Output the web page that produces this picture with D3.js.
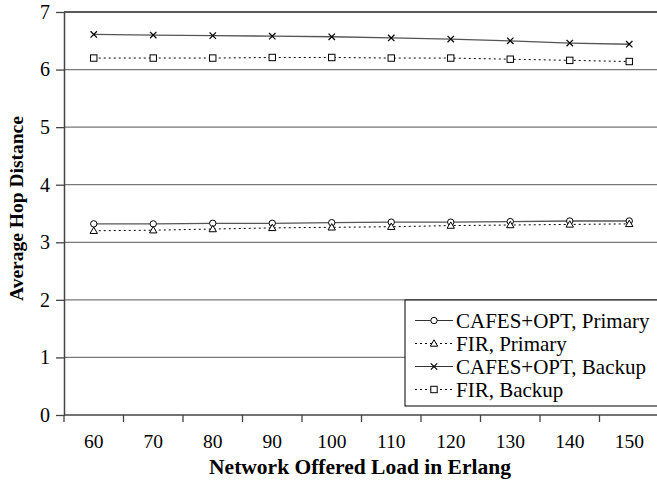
<!DOCTYPE html>
<html>
<head>
<meta charset="utf-8">
<script src="https://cdn.jsdelivr.net/npm/d3@7"></script>
<style>
  body { margin: 0; background: #fff; }
  svg text { font-family: "Liberation Serif", "Times New Roman", Times, serif; }
</style>
</head>
<body>
<div id="chart"></div>
<script>
const width = 657, height = 486;

// load values on the x axis (Erlang)
const loads = [60, 70, 80, 90, 100, 110, 120, 130, 140, 150];
const yTicks = [0, 1, 2, 3, 4, 5, 6, 7];

// average hop distance
const cafesPrimary = [3.32, 3.32, 3.33, 3.33, 3.34, 3.35, 3.35, 3.36, 3.37, 3.37];
const firPrimary = [3.20, 3.21, 3.23, 3.25, 3.26, 3.27, 3.29, 3.30, 3.31, 3.32];
const cafesBackup = [6.61, 6.60, 6.59, 6.58, 6.57, 6.55, 6.53, 6.50, 6.46, 6.44];
const firBackup = [6.20, 6.20, 6.20, 6.21, 6.21, 6.20, 6.20, 6.18, 6.16, 6.14];

const seriesNames = ['CAFES+OPT, Primary', 'FIR, Primary', 'CAFES+OPT, Backup', 'FIR, Backup'];
const seriesValues = [cafesPrimary, firPrimary, cafesBackup, firBackup];
const seriesMarkers = ['circle', 'triangle', 'cross', 'square'];
const seriesDashed = [false, true, false, true];

const serif = '"Liberation Serif", "Times New Roman", Times, serif';
const margin = { left: 64, right: -2, top: 12, bottom: 71 };

const svg = d3.select('#chart').append('svg')
  .attr('width', width)
  .attr('height', height)
  .style('font-family', serif);

const x = d3.scaleBand()
  .domain(loads)
  .range([margin.left, width - margin.right]);

const y = d3.scaleLinear()
  .domain([0, 7])
  .range([height - margin.bottom, margin.top]);

// gridlines
svg.append('g').selectAll('line')
  .data(yTicks.filter(d => d > 0))
  .join('line')
  .attr('x1', margin.left).attr('x2', width)
  .attr('y1', d => y(d)).attr('y2', d => y(d))
  .attr('stroke', d => d === 7 ? '#222' : '#777')
  .attr('stroke-width', 1.3);

// y axis
const yAxis = svg.append('g')
  .attr('transform', `translate(${margin.left},0)`)
  .call(d3.axisLeft(y).tickValues(yTicks).tickFormat(d3.format('d'))
    .tickSize(8).tickSizeOuter(0).tickPadding(6));
yAxis.attr('font-family', null);
yAxis.select('.domain').attr('stroke', '#444').attr('stroke-width', 1.5);
yAxis.selectAll('.tick line').attr('stroke', '#444').attr('stroke-width', 1.3);
yAxis.selectAll('.tick text')
  .style('font-family', serif)
  .attr('font-size', 20).attr('fill', '#000');

// x axis: ticks sit at band boundaries
const xAxisY = y(0);
svg.append('line')
  .attr('x1', margin.left).attr('x2', width)
  .attr('y1', xAxisY).attr('y2', xAxisY)
  .attr('stroke', '#444').attr('stroke-width', 1.5);
svg.append('g').selectAll('line')
  .data(loads)
  .join('line')
  .attr('x1', d => x(d)).attr('x2', d => x(d))
  .attr('y1', xAxisY).attr('y2', xAxisY + 7)
  .attr('stroke', '#444').attr('stroke-width', 1.3);
svg.append('g').selectAll('text')
  .data(loads)
  .join('text')
  .attr('x', d => x(d) + x.bandwidth() / 2)
  .attr('y', xAxisY + 33)
  .attr('text-anchor', 'middle')
  .attr('font-size', 19.5)
  .style('font-family', serif)
  .text(d => d);

// axis titles
svg.append('text')
  .attr('x', 360).attr('y', 474)
  .attr('text-anchor', 'middle')
  .attr('font-size', 21.5).attr('font-weight', 'bold')
  .style('font-family', serif)
  .text('Network Offered Load in Erlang');
svg.append('text')
  .attr('transform', `translate(23,${(y(0) + y(7)) / 2 - 5}) rotate(-90)`)
  .attr('text-anchor', 'middle')
  .attr('font-size', 19.5).attr('font-weight', 'bold')
  .style('font-family', serif)
  .text('Average Hop Distance');

function drawMarker(g, type, cx, cy) {
  const s = 3.2;
  if (type === 'circle') {
    g.append('circle').attr('cx', cx).attr('cy', cy).attr('r', s)
      .attr('fill', '#fff').attr('stroke', '#000').attr('stroke-width', 1);
  } else if (type === 'square') {
    g.append('rect').attr('x', cx - s).attr('y', cy - s).attr('width', 2 * s).attr('height', 2 * s)
      .attr('fill', '#fff').attr('stroke', '#000').attr('stroke-width', 1);
  } else if (type === 'triangle') {
    g.append('path')
      .attr('d', `M${cx},${cy - s - 0.5}L${cx + s + 0.5},${cy + s - 0.5}L${cx - s - 0.5},${cy + s - 0.5}Z`)
      .attr('fill', '#fff').attr('stroke', '#000').attr('stroke-width', 1);
  } else {
    g.append('path')
      .attr('d', `M${cx - s},${cy - s}L${cx + s},${cy + s}M${cx - s},${cy + s}L${cx + s},${cy - s}`)
      .attr('stroke', '#000').attr('stroke-width', 1.2);
  }
}

const line = d3.line()
  .x((d, i) => x(loads[i]) + x.bandwidth() / 2)
  .y(d => y(d));

seriesValues.forEach((vals, k) => {
  const g = svg.append('g');
  g.append('path')
    .attr('d', line(vals))
    .attr('fill', 'none')
    .attr('stroke', seriesDashed[k] ? '#000' : '#555')
    .attr('stroke-width', seriesDashed[k] ? 1 : 1.3)
    .attr('stroke-dasharray', seriesDashed[k] ? '2,3' : null);
  vals.forEach((v, i) => drawMarker(g, seriesMarkers[k], x(loads[i]) + x.bandwidth() / 2, y(v)));
});

// legend
const legend = svg.append('g').attr('transform', 'translate(405,300)');
legend.append('rect')
  .attr('x', 0).attr('y', 0).attr('width', 260).attr('height', 106)
  .attr('fill', '#fff').attr('stroke', '#000').attr('stroke-width', 1);
seriesNames.forEach((name, k) => {
  const cy = 20.5 + k * 23;
  const g = legend.append('g');
  g.append('line')
    .attr('x1', 10).attr('x2', 48).attr('y1', cy).attr('y2', cy)
    .attr('stroke', seriesDashed[k] ? '#000' : '#333')
    .attr('stroke-width', 1.2)
    .attr('stroke-dasharray', seriesDashed[k] ? '2,3' : null);
  drawMarker(g, seriesMarkers[k], 29, cy);
  legend.append('text')
    .attr('x', 51).attr('y', cy + 7)
    .attr('font-size', 21)
    .style('font-family', serif)
    .text(name);
});
</script>
</body>
</html>
